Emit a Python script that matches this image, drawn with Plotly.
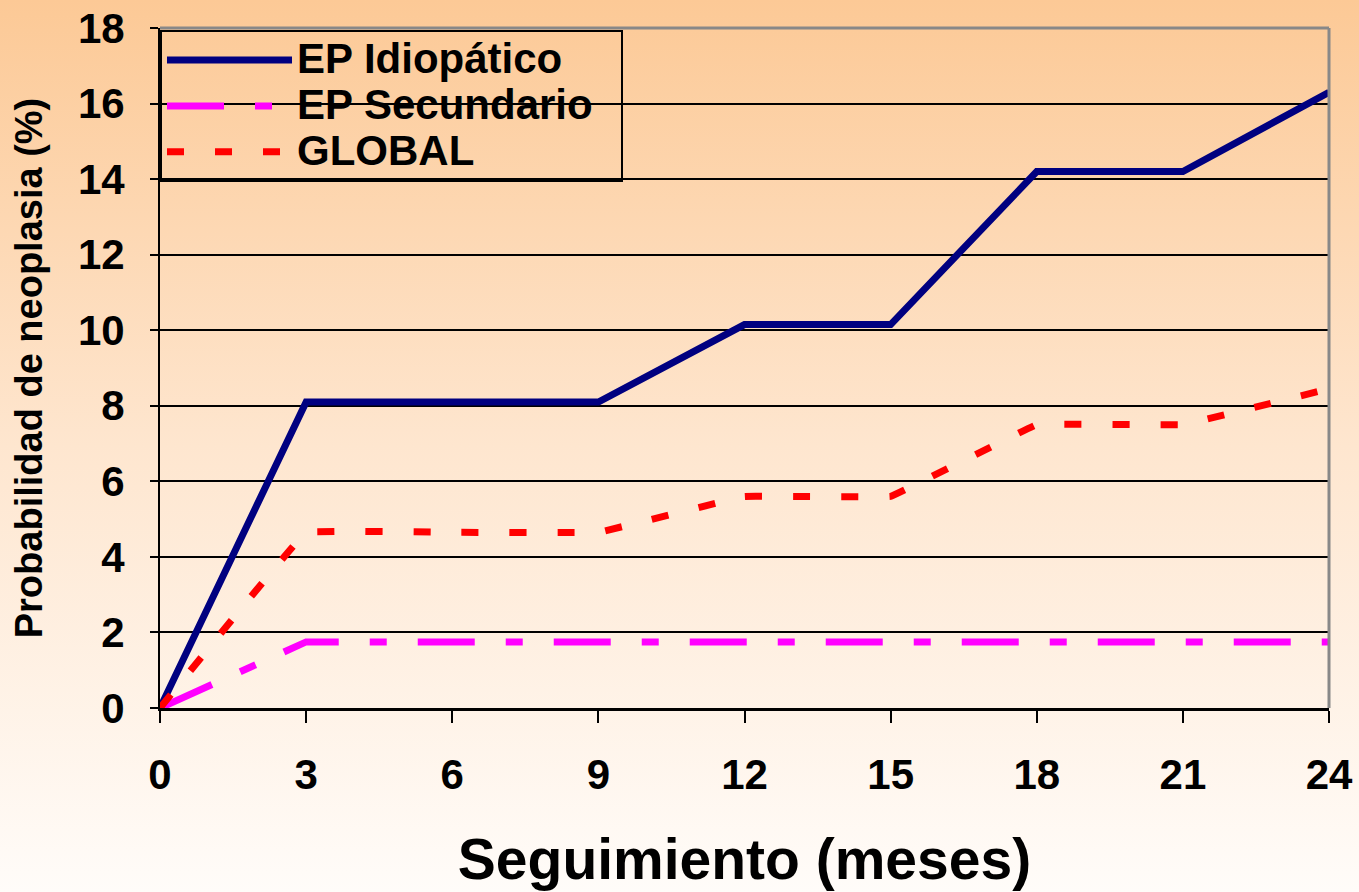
import base64
import plotly.graph_objects as go

months = [0, 3, 6, 9, 12, 15, 18, 21, 24]
idiopatico = [0, 8.1, 8.1, 8.1, 10.15, 10.15, 14.2, 14.2, 16.3]
secundario = [0, 1.75, 1.75, 1.75, 1.75, 1.75, 1.75, 1.75, 1.75]
global_ = [0, 4.65, 4.65, 4.65, 5.6, 5.6, 7.5, 7.5, 8.45]
series_names = ["EP Idiopático", "EP Secundario", "GLOBAL"]
x_ticks = [0, 3, 6, 9, 12, 15, 18, 21, 24]
y_ticks = [0, 2, 4, 6, 8, 10, 12, 14, 16, 18]

W, H = 1359, 892
ML, MR, MT, MB = 160, 30, 28, 184
FONT = "Liberation Sans, Arial, sans-serif"

svg = (
    '<svg xmlns="http://www.w3.org/2000/svg" width="100" height="100" preserveAspectRatio="none">'
    '<defs><linearGradient id="g" x1="0" y1="0" x2="0" y2="1">'
    '<stop offset="0" stop-color="#FCC996"/>'
    '<stop offset="0.5" stop-color="#FEE6CF"/>'
    '<stop offset="1" stop-color="#FFFCF9"/>'
    '</linearGradient></defs><rect width="100" height="100" fill="url(#g)"/></svg>'
)
src = "data:image/svg+xml;base64," + base64.b64encode(svg.encode()).decode()

pw = W - ML - MR
ph = H - MT - MB


def big(t, pad=0):
    return "<span style='font-size:42px'>" + t + "&nbsp;" * pad + "</span>"


fig = go.Figure()
fig.add_trace(go.Scatter(x=months, y=idiopatico, mode="lines", name=big(series_names[0]),
                         line=dict(color="#000080", width=7)))
fig.add_trace(go.Scatter(x=months, y=secundario, mode="lines", name=big(series_names[1], 2),
                         line=dict(color="#FF00FF", width=7, dash="57px,31px,17px,31px")))
fig.add_trace(go.Scatter(x=months, y=global_, mode="lines", name=big(series_names[2]),
                         line=dict(color="#FF0000", width=7, dash="17px,31px",
                                   shape="spline", smoothing=0.1)))

fig.update_layout(
    width=W, height=H,
    margin=dict(l=ML, r=MR, t=MT, b=MB, pad=0, autoexpand=False),
    paper_bgcolor="white",
    plot_bgcolor="rgba(0,0,0,0)",
    font=dict(family=FONT, color="black", size=40, weight="bold"),
    images=[dict(source=src, xref="paper", yref="paper",
                 x=-ML / pw, y=1 + MT / ph, sizex=W / pw, sizey=H / ph,
                 xanchor="left", yanchor="top", sizing="stretch", layer="below")],
    shapes=[
        dict(type="line", xref="paper", yref="paper", x0=0, x1=1, y0=1, y1=1,
             line=dict(color="#888888", width=3)),
        dict(type="line", xref="paper", yref="paper", x0=1, x1=1, y0=0, y1=1,
             line=dict(color="#888888", width=3)),
    ],
    showlegend=True,
    legend=dict(x=0, y=0.997, xanchor="left", yanchor="top",
                bgcolor="rgba(0,0,0,0)", bordercolor="black", borderwidth=2,
                font=dict(family=FONT, size=33, color="black", weight="bold"),
                itemwidth=125, tracegroupgap=0),
    xaxis=dict(range=[0, 24], tickvals=x_ticks, ticktext=[str(v) for v in x_ticks],
               automargin=False,
               ticks="outside", ticklen=12, tickwidth=2, tickcolor="black",
               showline=True, linecolor="black", linewidth=3,
               showgrid=False, zeroline=False,
               tickfont=dict(family=FONT, size=42, weight="bold"),
               ticklabelstandoff=16,
               title=dict(text="Seguimiento (meses)", standoff=42,
                          font=dict(family=FONT, size=57, weight="bold"))),
    yaxis=dict(range=[0, 18], tickvals=y_ticks, ticktext=[str(v) for v in y_ticks],
               automargin=False,
               ticks="outside", ticklen=8, tickwidth=2, tickcolor="black",
               showline=True, linecolor="black", linewidth=2,
               showgrid=True, gridcolor="black", gridwidth=2, zeroline=False,
               tickfont=dict(family=FONT, size=42, weight="bold"),
               ticklabelstandoff=17,
               title=dict(text="Probabilidad de neoplasia (%)", standoff=24,
                          font=dict(family=FONT, size=38, weight="bold"))),
)

fig.write_html(
    "out.html",
    config={"displayModeBar": False, "staticPlot": True},
    post_script=(
        "document.documentElement.style.margin='0';"
        "document.documentElement.style.overflow='hidden';"
        "document.body.style.margin='0';document.body.style.padding='0';"
        "document.body.style.overflow='hidden';"
    ),
)
